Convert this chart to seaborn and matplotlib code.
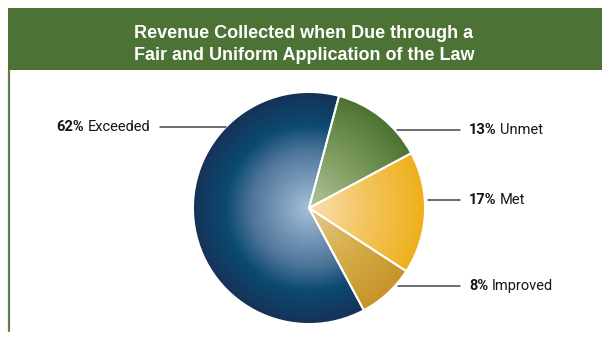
import numpy as np
import matplotlib
matplotlib.use("Agg")
import matplotlib.pyplot as plt
import seaborn as sns
from matplotlib.colors import LinearSegmentedColormap
from matplotlib.patches import Rectangle
from matplotlib.lines import Line2D

# Data
categories = ["Unmet", "Met", "Improved", "Exceeded"]
shares = [13, 17, 8, 62]

# Radial gradient stops for each slice (center -> rim)
gradients = {
    "Unmet": ["#b3c69e", "#7f9d5f", "#4c7232"],
    "Met": ["#fadfb0", "#f4c55f", "#efb01c"],
    "Improved": ["#e6c98c", "#d6ae4a", "#c7932a"],
    "Exceeded": ["#a6c0da", "#4d7499", "#0b4a71", "#163258"],
}

sns.set_theme(style="white")
plt.rcParams["font.family"] = ["Roboto", "DejaVu Sans"]

W, H = 602, 339
fig = plt.figure(figsize=(W / 100, H / 100), dpi=100)
ax = fig.add_axes([0, 0, 1, 1])

# Pie
cx, cy, R = 309, H - 208, 116
wedges, _ = ax.pie(shares, center=(cx, cy), radius=R, startangle=75,
                   counterclock=False, frame=True,
                   wedgeprops=dict(edgecolor="white", linewidth=1.4))
ax.set_xlim(0, W)
ax.set_ylim(0, H)
ax.set_aspect("equal")
ax.axis("off")

yy, xx = np.mgrid[cy - R:cy + R:400j, cx - R:cx + R:400j]
rr = np.clip(np.hypot(xx - cx, yy - cy) / R, 0, 1)
for w, name in zip(wedges, categories):
    stops = gradients[name]
    if name == "Exceeded":
        cmap = LinearSegmentedColormap.from_list(name, list(zip([0, 0.5, 0.72, 1.0], stops)))
    else:
        cmap = LinearSegmentedColormap.from_list(name, stops)
    w.set_facecolor("none")
    w.set_zorder(4)
    im = ax.imshow(rr, cmap=cmap, vmin=0, vmax=1, origin="lower",
                   extent=(cx - R, cx + R, cy - R, cy + R), zorder=3,
                   interpolation="bilinear")
    im.set_clip_path(w)

# Banner and left rule
green = "#4d7235"
ax.add_patch(Rectangle((8, H - 70), W - 8, 62, facecolor=green, edgecolor="none", zorder=1))
ax.add_line(Line2D([9, 9], [H - 70, H - 331], color="#5f8048", lw=1.6, zorder=1))
title_font = dict(family=["Liberation Sans", "DejaVu Sans"], fontsize=13, fontweight="bold")
ax.text(304, H - 38, "Revenue Collected when Due through a", color="white",
        ha="center", va="baseline", zorder=2, **title_font)
ax.text(304, H - 60, "Fair and Uniform Application of the Law", color="white",
        ha="center", va="baseline", zorder=2, **title_font)

# Labels with leader lines
lead = "#444444"
fs = 10.5
ink = "#151515"

def right_label(pct, name, y, x0, x1=460):
    ax.add_line(Line2D([x0, x1], [H - y, H - y], color=lead, lw=1.1, zorder=5))
    t = ax.text(469, H - y, f"{pct}%", fontsize=fs, fontweight="bold",
                color=ink, ha="left", va="center", zorder=5)
    ax.annotate(name, xy=(1, 0), xycoords=t, xytext=(2.5, 0),
                textcoords="offset points", fontsize=fs, color=ink,
                ha="left", va="bottom", zorder=5)

vals = dict(zip(categories, shares))
right_label(vals["Unmet"], "Unmet", 130, 397)
right_label(vals["Met"], "Met", 200, 428)
right_label(vals["Improved"], "Improved", 286, 398)

ax.add_line(Line2D([160, 226], [H - 127, H - 127], color=lead, lw=1.1, zorder=5))
t = ax.text(150, H - 127, "Exceeded", fontsize=fs, color=ink,
            ha="right", va="center", zorder=5)
ax.annotate(f"{vals['Exceeded']}%", xy=(0, 0), xycoords=t, xytext=(-2.5, 0),
            textcoords="offset points", fontsize=fs, fontweight="bold",
            color=ink, ha="right", va="bottom", zorder=5)

fig.savefig("out.png", dpi=100, facecolor="white")
